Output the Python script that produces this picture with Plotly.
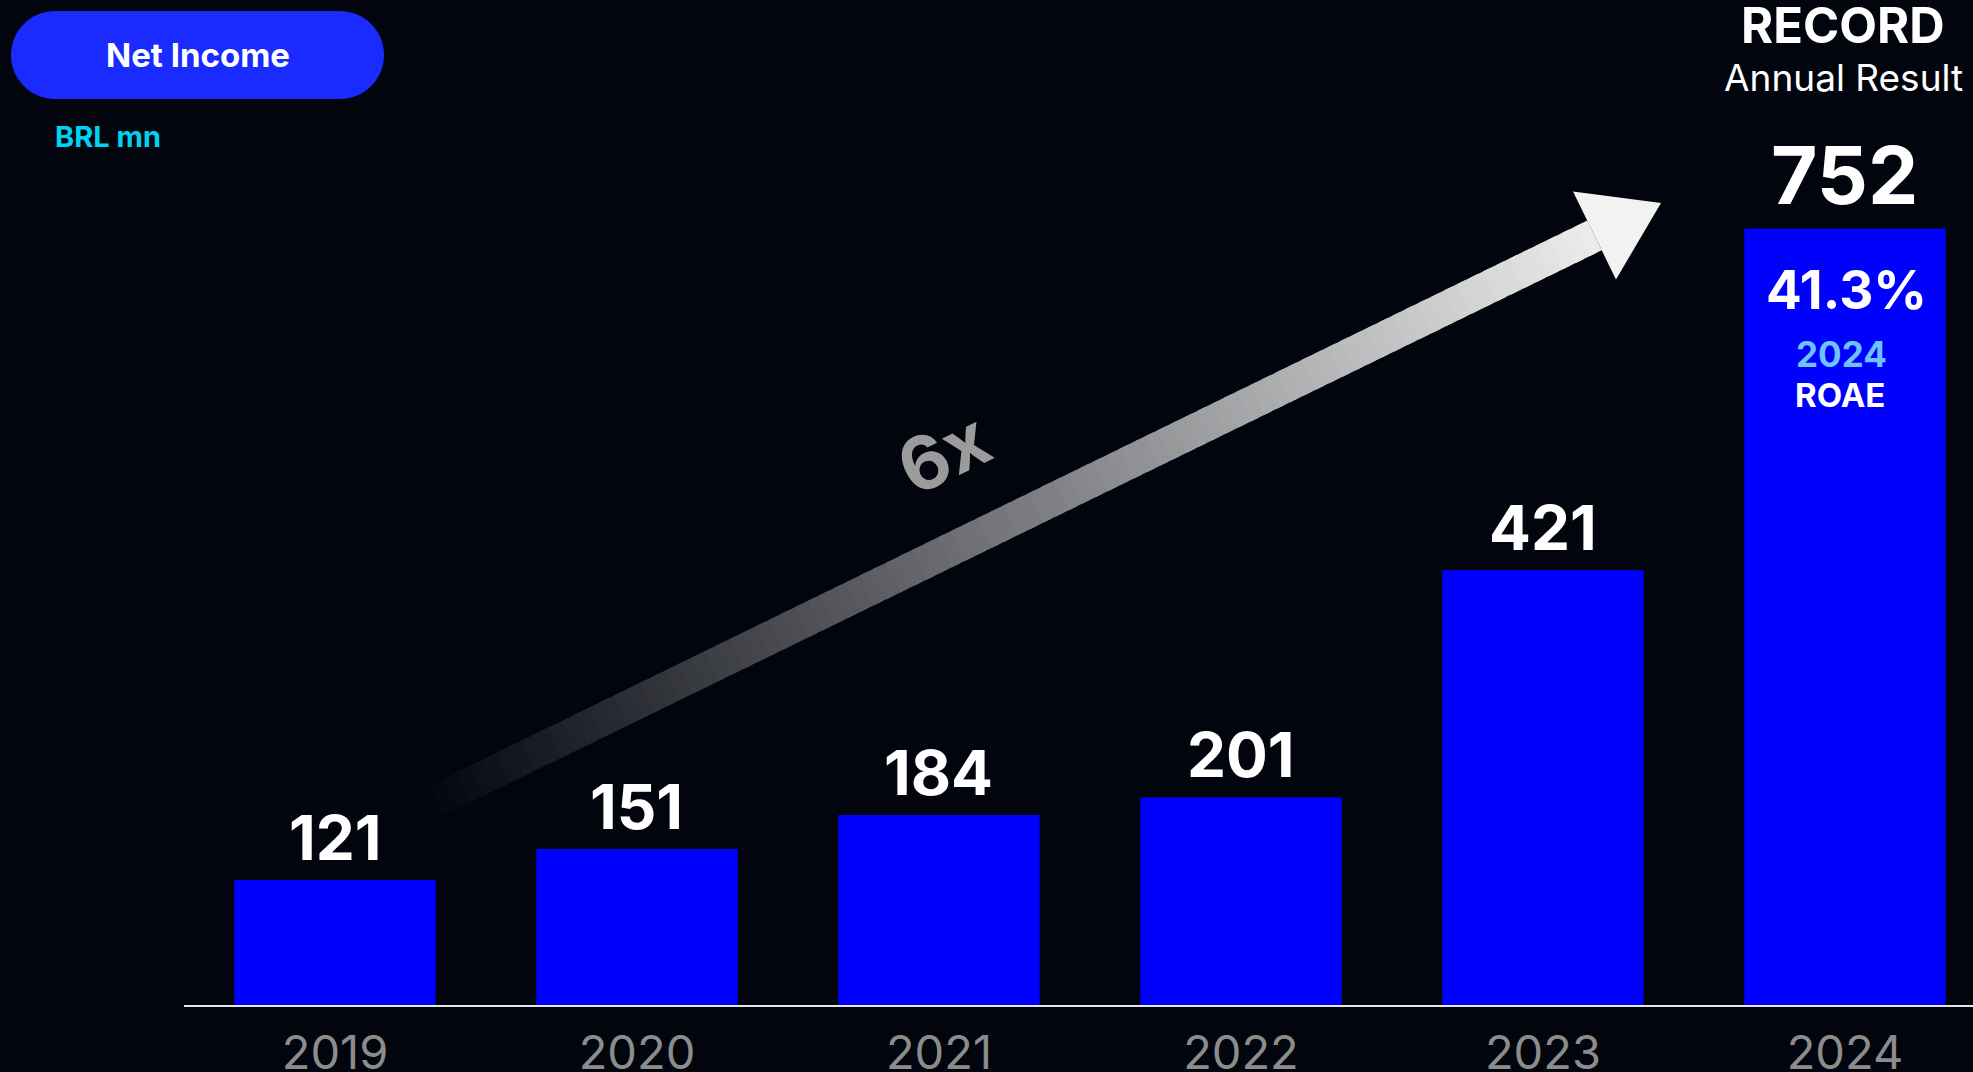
import plotly.graph_objects as go

# ---- data -------------------------------------------------------------
years = ["2019", "2020", "2021", "2022", "2023", "2024"]
net_income = [121, 151, 184, 201, 421, 752]   # BRL mn
roae_2024 = "41.3%"
growth_label = "6x"

# ---- canvas / layout geometry (pixels) --------------------------------
W, H = 1973, 1072
ML, MR, MT, MB = 184, 0, 0, 67
PW, PH = W - ML - MR, H - MT - MB
BG = "#02050d"
BAR = "#0000ff"
FONT = "Inter"


def px(x):
    """pixel x -> paper x"""
    return (x - ML) / PW


def py(y):
    """pixel y (from top) -> paper y"""
    return (H - MB - y) / PH


fig = go.Figure()

fig.add_trace(go.Bar(
    x=years, y=net_income,
    marker=dict(color=BAR, line=dict(width=0)),
    width=0.667,
    hoverinfo="x+y",
))

annotations = []
shapes = []

# value labels above bars (x given as category index)
for i, (yr, v) in enumerate(zip(years, net_income)):
    big = yr == "2024"
    size = 80 if big else 62
    gap = 25 if big else 20
    annotations.append(dict(
        x=i, y=v, xref="x", yref="y", text=str(v), showarrow=False,
        yanchor="middle", yshift=gap + 0.727 * size / 2,
        font=dict(family=FONT, size=size, color="white", weight=700),
    ))


def txt(x, y, s, size, color="white", weight=700, xanchor="center"):
    annotations.append(dict(
        x=px(x), y=py(y), xref="paper", yref="paper", text=s, showarrow=False,
        xanchor=xanchor, yanchor="middle",
        font=dict(family=FONT, size=size, color=color, weight=weight),
    ))


# headline over the last bar
txt(1843, 26, "RECORD", 49)
txt(1843, 77, "Annual Result", 37, weight=400)
txt(1846, 290, roae_2024, 53)
txt(1841, 354, "2024", 35, color="#6ec3ff")
txt(1840, 395, "ROAE", 33)

# pill title
k = 0.5523
x0, x1, y0, y1 = 11, 384, 11, 99
r = (y1 - y0) / 2
cl, cr, cy = x0 + r, x1 - r, y0 + r
pts = [
    ("M", [(cl, y0)]),
    ("L", [(cr, y0)]),
    ("C", [(cr + k * r, y0), (x1, cy - k * r), (x1, cy)]),
    ("C", [(x1, cy + k * r), (cr + k * r, y1), (cr, y1)]),
    ("L", [(cl, y1)]),
    ("C", [(cl - k * r, y1), (x0, cy + k * r), (x0, cy)]),
    ("C", [(x0, cy - k * r), (cl - k * r, y0), (cl, y0)]),
]
path = " ".join(cmd + " " + " ".join(f"{px(a):.5f},{py(b):.5f}" for a, b in p)
                for cmd, p in pts) + " Z"
shapes.append(dict(type="path", path=path, xref="paper", yref="paper",
                   fillcolor="#1a2bff", line=dict(width=0), layer="above"))
txt(198, 55, "Net Income", 33)
txt(53, 136, "BRL mn", 29, color="#00d2f2", xanchor="left")

# growth arrow with a dark-to-white gradient along the shaft
sx, sy = 425, 806        # tail
tx, ty = 1661, 203       # tip
head_len, head_w, shaft_w = 74, 98, 33
L = ((tx - sx) ** 2 + (ty - sy) ** 2) ** 0.5
ux, uy = (tx - sx) / L, (ty - sy) / L
nx, ny = -uy, ux
shaft_len = L - head_len


def poly(points, color):
    d = "M " + " L ".join(f"{px(a):.5f},{py(b):.5f}" for a, b in points) + " Z"
    shapes.append(dict(type="path", path=d, xref="paper", yref="paper",
                       fillcolor=color, line=dict(width=0), layer="above"))


def mix(c0, c1, t):
    return "rgb(" + ",".join(str(round(a + (b - a) * t)) for a, b in zip(c0, c1)) + ")"


c_start, c_end = (2, 5, 13), (236, 236, 236)
N = 90
for i in range(N):
    t0, t1 = i / N, min(1.0, (i + 1.6) / N)
    a0, a1 = t0 * shaft_len, t1 * shaft_len
    hw = shaft_w / 2
    quad = [
        (sx + ux * a0 + nx * hw, sy + uy * a0 + ny * hw),
        (sx + ux * a1 + nx * hw, sy + uy * a1 + ny * hw),
        (sx + ux * a1 - nx * hw, sy + uy * a1 - ny * hw),
        (sx + ux * a0 - nx * hw, sy + uy * a0 - ny * hw),
    ]
    poly(quad, mix(c_start, c_end, (i + 0.5) / N))

bx, by = sx + ux * shaft_len, sy + uy * shaft_len
poly([(bx + nx * head_w / 2, by + ny * head_w / 2), (tx, ty),
      (bx - nx * head_w / 2, by - ny * head_w / 2)], "#f2f2f2")

annotations.append(dict(
    x=px(943), y=py(453), xref="paper", yref="paper", text=growth_label,
    showarrow=False, textangle=-26, xanchor="center", yanchor="middle",
    font=dict(family=FONT, size=74, color="#9b9b9b", weight=700),
))

fig.update_layout(
    width=W, height=H,
    margin=dict(l=ML, r=MR, t=MT, b=MB, pad=0, autoexpand=False),
    paper_bgcolor=BG, plot_bgcolor=BG,
    showlegend=False, bargap=0.333,
    annotations=annotations, shapes=shapes,
    xaxis=dict(
        type="category", range=[-0.5, 5.424], fixedrange=True,
        automargin=False,
        showline=True, linecolor="#e6e6e6", linewidth=2,
        showgrid=False, zeroline=False, ticks="",
        ticklabelstandoff=6,
        tickfont=dict(family=FONT, size=47, color="#8c8c8c"),
    ),
    yaxis=dict(
        range=[0, 973.4], visible=False, showgrid=False, zeroline=False,
        fixedrange=True, automargin=False,
    ),
)

fig.write_html("out.html", config={"displayModeBar": False})
